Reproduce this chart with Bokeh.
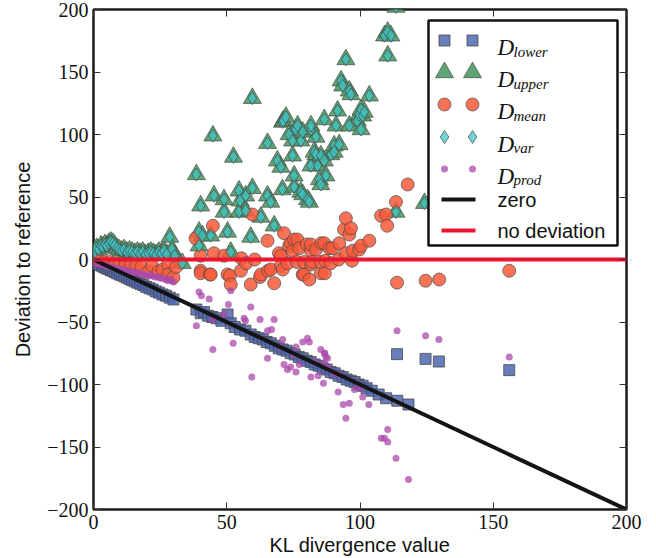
from bokeh.plotting import figure
from bokeh.models import Range1d, LinearAxis, FixedTicker, BoxAnnotation, Label
from bokeh.embed import file_html
from bokeh.resources import INLINE

# ---------------- data ----------------
lower_x = [0.8, 1.6, 2.4, 3.2, 4.0, 4.8, 5.6, 6.4, 7.2, 8.0, 8.9, 9.8, 10.7, 11.6, 12.5, 13.5,
           14.5, 15.5, 16.5, 17.6, 18.7, 19.8, 21.0, 22.2, 23.4, 24.6, 25.9, 27.2, 28.6, 30.0,
           38.6, 40.2, 41.5, 43.0, 44.6, 46.2, 48.0, 50.3, 51.5, 53.0, 55.0, 57.0, 59.0, 60.5,
           62.0, 63.5, 65.0, 66.5, 68.0, 69.5, 71.0, 72.5, 74.0, 75.5, 77.0, 78.5, 80.0, 81.5,
           83.0, 84.5, 86.0, 87.5, 89.0, 90.5, 92.0, 93.5, 95.0, 96.5, 98.0, 99.5, 101.0, 102.5,
           104.4, 107.0, 109.8, 114.0, 118.2, 113.9, 124.6, 129.6, 156.0]
lower_y = [-3, -3.5, -4.5, -5, -6, -7, -7.5, -8.5, -9, -10, -11, -12, -12.5, -13.5, -14.5, -15.5,
           -16.5, -17.5, -18.5, -19.5, -20.5, -22, -23, -24, -25.5, -26.5, -28, -29, -30.5, -32,
           -40, -43, -42, -45, -46, -47, -49, -44, -51, -54, -56, -57, -60, -62,
           -63, -64, -66, -67, -69, -71, -72, -73, -75, -76, -78, -79, -81, -82,
           -84, -85, -87, -88, -90, -91, -93, -94, -96, -97, -98, -100, -101, -103,
           -105, -108, -111, -113, -116, -75.7, -79.5, -81.6, -88.5]

upper_x = [0.5, 1.2, 2.0, 2.8, 3.5, 4.3, 5.0, 5.8, 6.5, 7.3, 8.0, 8.8, 9.6, 10.5, 11.5, 12.5,
           13.5, 14.5, 15.5, 16.5, 17.5, 18.5, 19.5, 20.5, 21.5, 22.5, 23.5, 24.5, 25.5, 26.5,
           27.5, 28.6, 29.5, 30.5,
           33.3, 38.6, 39.6, 40.9, 39.6, 40.2, 44.0, 44.8, 45.2, 49.0, 49.0, 50.3, 51.5, 52.5,
           54.6, 54.6, 55.0, 57.1, 57.1, 59.0, 59.6, 59.6, 62.8, 65.3, 65.3, 66.5, 67.8, 69.0,
           70.3, 70.9, 70.9, 71.3, 72.2, 73.4, 74.7, 74.7, 75.3, 75.3, 75.9, 76.6, 77.8, 77.8,
           78.5, 78.5, 80.3, 81.0, 81.6, 81.6, 81.6, 82.8, 83.5, 83.5, 84.1, 84.8, 85.3, 85.3,
           86.6, 86.6, 87.2, 89.1, 90.3, 90.3, 91.0, 91.6, 92.2, 92.9, 93.5, 94.7, 96.0, 96.0,
           96.6, 99.0, 99.7, 100.4, 100.4, 101.0, 101.6, 103.5, 109.2, 110.4, 111.6, 110.4,
           113.5, 113.5, 124.2]
upper_y = [6, 9, 8, 11, 10, 12, 11, 13, 14, 13, 11, 9, 8, 7, 8, 6,
           7, 6, 5, 6, 5, 6, 4, 5, 6, 5, 4, 6, 5, 7,
           4, 18, 8, 3,
           -3, 68, 22, 19, 11, 43, 19, 99, 51, 48, 38, 22, 6, 82,
           55, 38, 47, 51, 39, 18, 57, 129, 34, 93, 51, 46, 27, 79,
           74, 56, 110, 111, 114, 100, 83, 95, 67, 58, 104, 107, 95, 54,
           102, 52, 48, 46, 104, 75, 107, 86, 98, 84, 75, 64, 60, 83,
           112, 79, 67, 84, 91, 86, 107, 119, 92, 143, 139, 160, 135, 107,
           132, 111, 116, 120, 104, 115, 118, 131, 179, 182, 179, 163,
           202, 38, 45]

mean_x = [2, 4, 6, 8, 10, 12, 14, 16, 18, 20.7, 22, 24.4, 26, 28, 28, 30, 31,
          38.3, 40.2, 40.2, 40.2, 43.7, 44.0, 44.8, 45.2, 49.0, 50.3, 51.2, 51.5, 55.3, 55.5,
          57.3, 59.0, 59.6, 60.5, 62.5, 62.8, 65.3, 65.5, 66.5, 67.8, 69.6, 70.3, 70.3, 71.0,
          71.5, 72.8, 73.4, 74.0, 74.7, 75.3, 76.3, 76.5, 77.2, 78.5, 79.0, 79.0, 80.0, 81.0,
          81.6, 81.6, 81.6, 82.0, 83.5, 85.3, 85.3, 85.5, 86.6, 86.8, 87.0, 88.5, 89.0, 89.7,
          92.0, 92.2, 94.0, 94.7, 94.7, 96.0, 96.6, 97.0, 97.3, 99.7, 100.4, 103.5, 107.9,
          109.8, 110.2, 113.5, 117.9, 113.9, 124.6, 129.7, 156.0]
mean_y = [-1, -2, -2, -3, -3, -4, -4, -5, -6, -9.6, -5, -9.6, -8, -4, -12, -14.4, -6,
          17, 3, -9, -11, -12, -12, 27, 5, 3, -12, -13, -20, -9, 1,
          -3, -20, 36, 0, -14, -12, 15, -9, -8, -19, 5, 3, -5, -8,
          21, -3, 11, 13, 7, 16, -2, 16, 9, -12, -12, -2, 12, -16,
          7, 12, -4, -2, 8, -11, -2, 13, 13, -11, -1, 9, -3, 9,
          0, 13, 24, 33, 5, 20, 25, -1, 7, 8, 11, 15, 35,
          36, 27, 46, 60, -18.5, -17, -16, -9]

# D_var coincides with D_upper in the reference (diamonds sit inside every triangle)
var_x = list(upper_x)
var_y = list(upper_y)

prod_x = [1, 2, 3, 4, 5, 6, 7, 8, 9, 10, 11, 12, 13, 14, 15, 16, 17, 18, 19, 20,
          21, 22, 23, 24, 25, 26, 27, 28, 29, 30,
          39.6, 40.5, 43.4, 38.6, 44.8, 44.6, 49.0, 50.6, 51.5, 52.4, 56.5, 57.0, 59.0, 59.4,
          62.5, 65.3, 65.3, 66.8, 67.8, 70.0, 71.0, 71.5, 72.8, 74.0, 75.0, 76.0, 76.0, 77.2,
          78.5, 80.3, 81.0, 81.6, 83.0, 84.3, 85.3, 86.6, 86.8, 87.2, 86.6, 87.8, 88.0, 86.3,
          90.0, 91.8, 92.0, 93.7, 96.0, 94.7, 97.9, 99.0, 100.4, 101.0, 103.3, 108.0, 109.2,
          110.4, 110.4, 113.5, 118.2, 113.9, 124.6, 129.6, 156.0]
prod_y = [-3, -3.5, -4, -4.5, -5, -5.5, -6, -6.5, -7, -7.5, -8, -8.5, -9, -9.5, -10, -10.5,
          -11, -11.5, -12, -12.5, -13, -13, -14, -14, -15, -15, -16, -17, -16, -18,
          -26, -29, -31.5, -53, -72, -48, -44, -36, -25, -67, -47, -49, -38, -94,
          -48, -57, -79, -56, -48, -70, -64, -84, -88, -86, -76, -70, -90, -84,
          -66, -63, -66, -94, -82, -93, -72, -75, -75, -78, -83, -79, -87, -99,
          -91, -106, -92, -116, -115, -127, -104, -99, -103, -110, -116, -143, -143,
          -136, -146, -159, -176, -57, -61, -64, -78]

zero_x = [0, 200]
zero_y = [0, -200]
nodev_x = [0, 200]
nodev_y = [0, 0]

x_ticks = [0, 50, 100, 150, 200]
y_ticks = [-200, -150, -100, -50, 0, 50, 100, 150, 200]

# ---------------- styling ----------------
C_LOWER = "#4d67b2"
C_UPPER = "#4e9a66"
C_MEAN = "#f7593a"
C_VAR = "#3ec6c6"
C_PROD = "#a94aa9"
C_EDGE = "#4a4a4a"
C_ZERO = "#141414"
C_RED = "#ec1530"

FL, FT, FW, FH = 93, 9, 533, 500   # frame left/top/width/height in pixels

p = figure(width=656, height=558, output_backend="svg", toolbar_location=None,
           x_range=Range1d(0, 200), y_range=Range1d(-200, 200),
           min_border_left=FL, min_border_right=656 - FL - FW, min_border_top=FT,
           min_border_bottom=558 - FT - FH)
p.grid.visible = False
p.background_fill_color = "white"
p.border_fill_color = "white"
p.outline_line_color = "#1a1a1a"
p.outline_line_width = 2.5
p.outline_line_alpha = 1.0


def fmt(v):
    return ("\u2212" + str(-v)) if v < 0 else str(v)


def style_axis(ax, ticks, show_labels=True):
    ax.ticker = FixedTicker(ticks=ticks)
    ax.major_tick_in = 7
    ax.major_tick_out = 0
    ax.minor_tick_in = 0
    ax.minor_tick_out = 0
    ax.major_tick_line_color = "#333333"
    ax.major_tick_line_width = 1
    ax.axis_line_color = None
    if show_labels:
        ax.major_label_overrides = {t: fmt(t) for t in ticks}
        ax.major_label_text_font = "Liberation Serif"
        ax.major_label_text_font_size = "20px"
        ax.major_label_text_color = "#111111"
        ax.major_label_standoff = 5
        ax.axis_label_text_font = "Liberation Sans"
        ax.axis_label_text_font_size = "20px"
        ax.axis_label_text_font_style = "normal"
        ax.axis_label_text_color = "#111111"
    else:
        # tick marks only: no label text is drawn at all
        ax.major_label_text_color = None
        ax.major_label_text_font_size = "1px"
        ax.major_label_standoff = 0


style_axis(p.xaxis[0], x_ticks)
style_axis(p.yaxis[0], y_ticks)
p.xaxis[0].axis_label = "KL divergence value"
p.yaxis[0].axis_label = "Deviation to reference"
p.xaxis[0].axis_label_standoff = 2
p.yaxis[0].axis_label_standoff = 10

ax_top = LinearAxis()
style_axis(ax_top, x_ticks, show_labels=False)
p.add_layout(ax_top, "above")
ax_right = LinearAxis()
style_axis(ax_right, y_ticks, show_labels=False)
p.add_layout(ax_right, "right")

# ---------------- data glyphs ----------------
p.scatter(lower_x, lower_y, marker="square", size=11, fill_color=C_LOWER, fill_alpha=0.85,
          line_color=C_EDGE, line_alpha=0.8, line_width=1)
p.scatter(upper_x, upper_y, marker="triangle", size=18, fill_color=C_UPPER, fill_alpha=0.9,
          line_color=C_EDGE, line_alpha=0.7, line_width=1)
p.scatter(mean_x, mean_y, marker="circle", size=13, fill_color=C_MEAN, fill_alpha=0.85,
          line_color=C_EDGE, line_alpha=0.7, line_width=1)
p.scatter(var_x, var_y, marker="diamond", size=13, fill_color=C_VAR, fill_alpha=0.75,
          line_color=C_EDGE, line_alpha=0.7, line_width=1)
p.scatter(prod_x, prod_y, marker="circle", size=7, fill_color=C_PROD, fill_alpha=0.75,
          line_color=None)
p.line(zero_x, zero_y, line_color=C_ZERO, line_width=4)
p.line(nodev_x, nodev_y, line_color=C_RED, line_width=4)

# ---------------- legend (hand-built to show two markers + math-style labels) ----------------
PXX = FW / 200.0
PXY = FH / 400.0


def dx(px):
    return (px - FL) / PXX


def dy(py):
    return 200 - (py - FT) / PXY


box = BoxAnnotation(left=dx(428), right=dx(617), top=dy(20), bottom=dy(245),
                    fill_color="white", fill_alpha=1.0, line_color="#111111",
                    line_width=2.5, line_alpha=1.0)
p.add_layout(box)

rows = [40, 72, 104, 136.5, 168.5, 199, 230]
mx = [dx(444), dx(472)]
leg_specs = [
    dict(marker="square", size=11, fill_color=C_LOWER, fill_alpha=0.85, line_color=C_EDGE, line_alpha=0.8),
    dict(marker="triangle", size=18, fill_color=C_UPPER, fill_alpha=0.9, line_color=C_EDGE, line_alpha=0.7),
    dict(marker="circle", size=13, fill_color=C_MEAN, fill_alpha=0.85, line_color=C_EDGE, line_alpha=0.7),
    dict(marker="diamond", size=13, fill_color=C_VAR, fill_alpha=0.75, line_color=C_EDGE, line_alpha=0.7),
    dict(marker="circle", size=7, fill_color=C_PROD, fill_alpha=0.75, line_color=None),
]
subs = ["lower", "upper", "mean", "var", "prod"]
for i, spec in enumerate(leg_specs):
    r = p.scatter(mx, [dy(rows[i])] * 2, **spec)
    r.level = "overlay"
    lab_d = Label(x=dx(497), y=dy(rows[i] + 7), text="D", text_font="Liberation Serif",
                  text_font_style="italic", text_font_size="23px", text_color="#111111",
                  text_baseline="alphabetic", text_align="left", level="overlay")
    lab_s = Label(x=dx(513), y=dy(rows[i] + 11), text=subs[i], text_font="Liberation Serif",
                  text_font_style="italic", text_font_size="15px", text_color="#111111",
                  text_baseline="alphabetic", text_align="left", level="overlay")
    p.add_layout(lab_d)
    p.add_layout(lab_s)

for j, (col, txt) in enumerate([(C_ZERO, "zero"), (C_RED, "no deviation")]):
    rr = rows[5 + j]
    r = p.line([dx(441), dx(475)], [dy(rr), dy(rr)], line_color=col, line_width=4)
    r.level = "overlay"
    p.add_layout(Label(x=dx(497), y=dy(rr), text=txt, text_font="Liberation Sans",
                       text_font_size="20px", text_color="#111111", text_baseline="middle",
                       text_align="left", level="overlay"))

open("out.html", "w").write(file_html(p, INLINE))
